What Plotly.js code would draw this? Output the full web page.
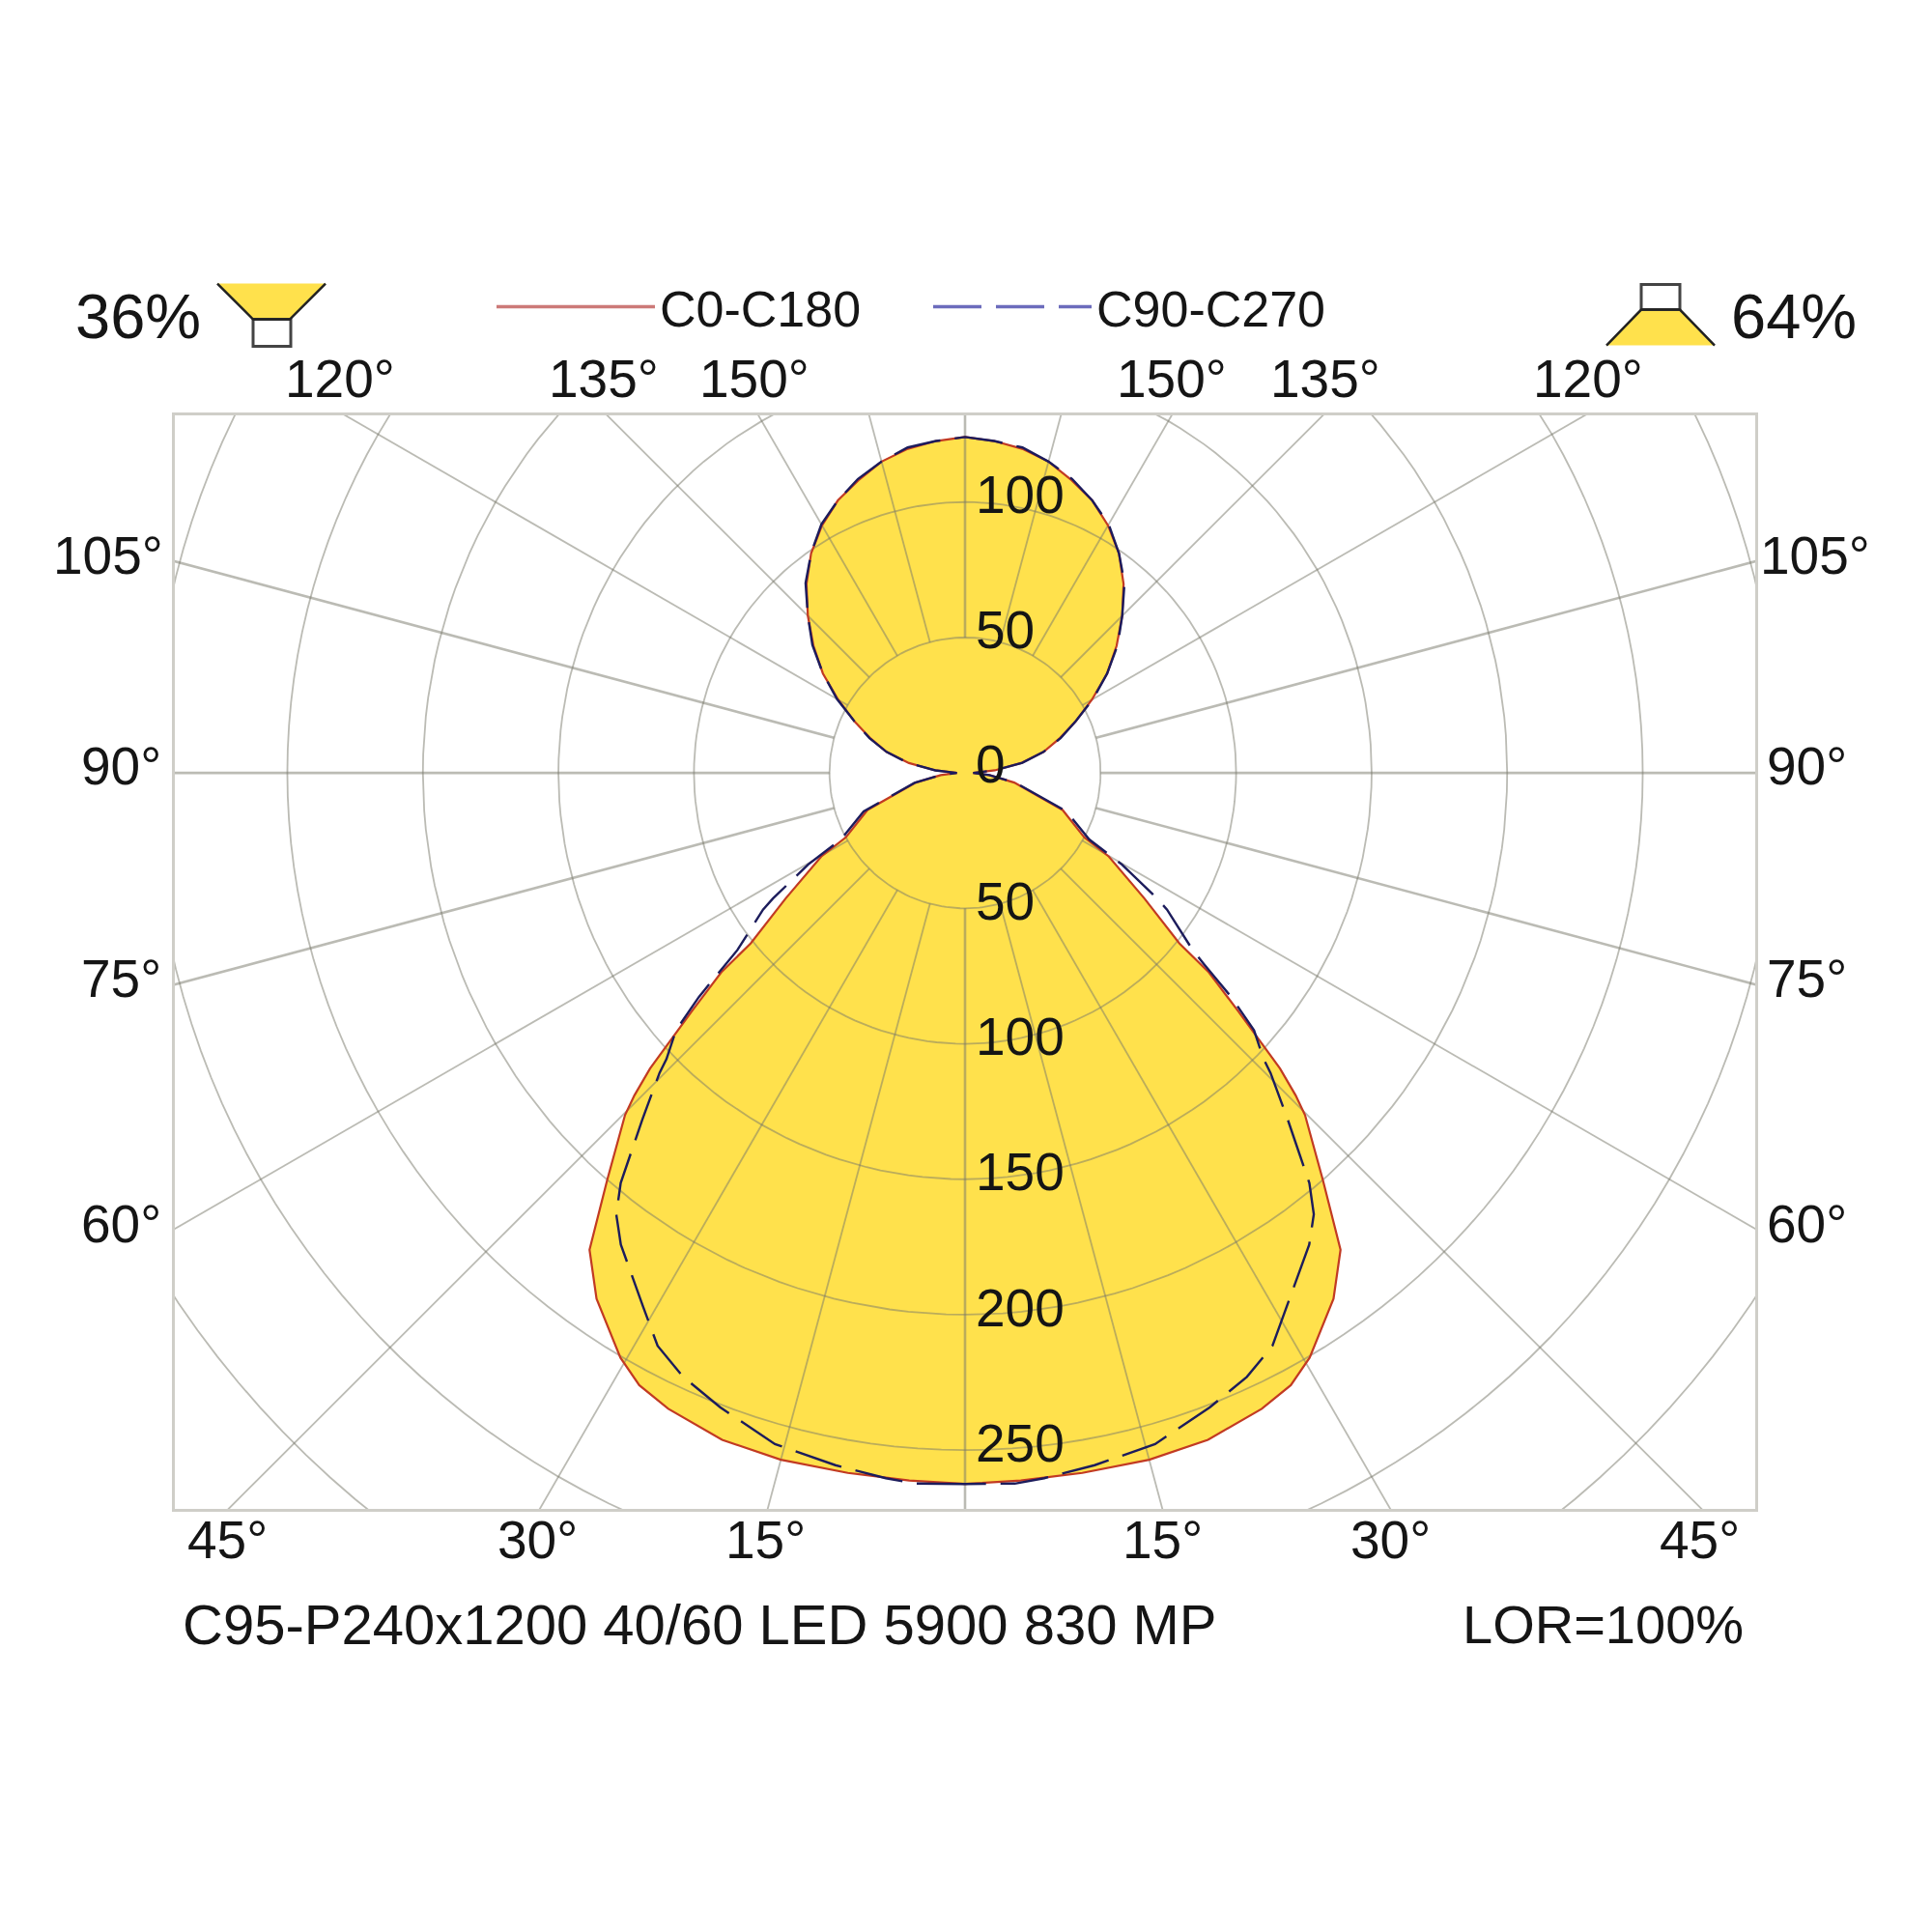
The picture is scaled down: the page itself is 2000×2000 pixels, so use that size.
<!DOCTYPE html>
<html>
<head>
<meta charset="utf-8">
<script src="https://cdn.plot.ly/plotly-3.0.1.min.js"></script>
<style>body { margin: 0; background: #fff; }</style>
</head>
<body>
<div id="ldc_plot" style="width:2000px;height:2000px"></div>
<script>
const anglesC0 = [0, 4.5, 9.5, 15, 20, 25, 28, 30.5, 35, 38.2, 41.3, 44.8, 45.7, 46.8, 48.9, 50.7, 51.5, 55, 59.8, 61.6, 69.2, 78.9, 85, 90,
  95, 100, 105, 110, 115, 120, 125, 130, 135, 140, 145, 150, 155, 160, 165, 170, 175, 180];
const cdC0 = [262.5, 262, 262, 262.5, 262, 259, 256, 250.5, 237, 224, 200, 178, 170.4, 159.4, 133.6, 116.2, 101, 80.8, 61.4, 50, 38.5, 18.5, 9, 3,
  11, 21, 30, 37, 45, 54, 64, 73, 82, 91, 99, 105.5, 111, 115, 119, 121.5, 123, 124];
const anglesC90 = [0, 4, 6.4, 10.6, 15.8, 21.1, 25, 28.2, 31.1, 36.1, 38.3, 40, 42.9, 45.5, 46.2, 48.3, 49.9, 51.3, 52.1, 55.9, 56.8, 59.7, 61.8, 69.2, 78.9, 85, 90,
  95, 100, 105, 110, 115, 120, 125, 130, 135, 140, 145, 150, 155, 160, 165, 170, 175, 180];
const cdC90 = [262.5, 263, 262, 260, 257.5, 251, 246, 240, 230, 215.5, 207.6, 197.6, 175, 158, 152.6, 142.8, 128.3, 113, 106.4, 90, 84.7, 67, 52, 40, 19, 9, 3,
  11, 21.5, 30, 37.5, 45, 54.5, 64, 73.5, 82, 91.5, 99, 106, 111, 115.5, 119, 122, 123, 124];

const ringValues = [50, 100, 150, 200, 250, 300, 350];
const spokeAngles = [15, 30, 45, 60, 75, 90, 105, 120, 135, 150, 165];
const heavySpokes = [75, 90, 105];
const axisSpokes = [0, 180];
const ringLabelsLower = ["50", "100", "150", "200", "250"];
const ringLabelsUpper = ["50", "100"];
const seriesNames = ["C0-C180", "C90-C270"];

const YELLOW = "#FFE14C",
  GRID = "rgba(120,120,105,0.5)",
  FRAME = "#CFCEC8",
  TEXT = "#151515",
  FONT = "Liberation Sans",
  DASH = "50px,15px";

// Plot box in page pixels, used to place the text and icons round it
const BOX = { l: 181, r: 1817, t: 429.5, b: 1562.5 };
const px = x => (x - BOX.l) / (BOX.r - BOX.l);
const py = y => (BOX.b - y) / (BOX.b - BOX.t);

const rad = a => a * Math.PI / 180;

// Closed outline from the half, left side then mirrored right side
function outline(angles, cd) {
  var x = [], y = [];
  angles.forEach((a, i) => {
    x.push(-cd[i] * Math.sin(rad(a)));
    y.push(-cd[i] * Math.cos(rad(a)));
  });
  for (var i = angles.length - 2; i >= 0; i--) {
    x.push(cd[i] * Math.sin(rad(angles[i])));
    y.push(-cd[i] * Math.cos(rad(angles[i])));
  }
  return { x: x, y: y };
}

function ringTrace() {
  var x = [], y = [];
  ringValues.forEach(r => {
    for (var a = 0; a <= 360; a += 2) {
      x.push(r * Math.sin(rad(a)));
      y.push(-r * Math.cos(rad(a)));
    }
    x.push(null);
    y.push(null);
  });
  return { x: x, y: y, mode: "lines", line: { color: GRID, width: 1.8 }, showlegend: false, hoverinfo: "skip" };
}

function spokeTrace(list, sides, width) {
  var x = [], y = [];
  list.forEach(a => {
    sides.forEach(side => {
      x.push(side * 50 * Math.sin(rad(a)), side * 500 * Math.sin(rad(a)), null);
      y.push(-50 * Math.cos(rad(a)), -500 * Math.cos(rad(a)), null);
    });
  });
  return { x: x, y: y, mode: "lines", line: { color: GRID, width: width }, showlegend: false, hoverinfo: "skip" };
}

var c0 = outline(anglesC0, cdC0),
  c90 = outline(anglesC90, cdC90);

var data = [
  { x: c0.x, y: c0.y, mode: "none", fill: "toself", fillcolor: YELLOW, showlegend: false, hoverinfo: "skip" },
  ringTrace(),
  spokeTrace(spokeAngles.filter(a => !heavySpokes.includes(a)), [-1, 1], 1.8),
  spokeTrace(heavySpokes, [-1, 1], 2.6),
  spokeTrace(axisSpokes, [1], 2.6),
  { x: c0.x, y: c0.y, mode: "lines", name: seriesNames[0], showlegend: false, line: { color: "#C23A22", width: 2.2 } },
  { x: c90.x, y: c90.y, mode: "lines", name: seriesNames[1], showlegend: false, line: { color: "#1C1C5C", width: 2.4, dash: DASH } },
  // The legend keys are drawn paler and thicker than the curves in the picture
  { x: [null], y: [null], mode: "lines", name: seriesNames[0], line: { color: "#CC7A78", width: 3.5 } },
  { x: [null], y: [null], mode: "lines", name: seriesNames[1], line: { color: "#6C6CBC", width: 3.5, dash: DASH } }
];

function label(text, x, y, size, anchor) {
  return {
    text: text, xref: "paper", yref: "paper", x: px(x), y: py(y - 2), showarrow: false,
    xanchor: anchor || "center", yanchor: "middle", font: { family: FONT, size: size || 55, color: TEXT }
  };
}

var annotations = [
  label("120°", 352, 393), label("135°", 625, 393), label("150°", 781, 393),
  label("150°", 1213, 393), label("135°", 1372, 393), label("120°", 1644, 393),
  label("105°", 112, 577), label("105°", 1879, 577),
  label("90°", 125, 795), label("90°", 1870, 795),
  label("75°", 125, 1015), label("75°", 1870, 1015),
  label("60°", 125, 1269), label("60°", 1870, 1269),
  label("45°", 235, 1597), label("30°", 556, 1597), label("15°", 792, 1597),
  label("15°", 1203, 1597), label("30°", 1439, 1597), label("45°", 1759, 1597),
  label("36%", 143, 329, 65), label("64%", 1857, 329, 65),
  label("C95-P240x1200 40/60 LED 5900 830 MP", 187, 1684, 58, "left"),
  label("LOR=100%", 1807, 1684, 56, "right"),
  label("0", 1008, 793, 55, "left")
];
ringLabelsLower.forEach((t, i) => annotations.push(label(t, 1008, 935 + i * 140.3, 55, "left")));
ringLabelsUpper.forEach((t, i) => annotations.push(label(t, 1008, 654 - i * 140, 55, "left")));

function path(points, close) {
  return "M" + points.map(p => px(p[0]) + "," + py(p[1])).join("L") + (close ? "Z" : "");
}

function iconShape(points, opts) {
  return Object.assign({ type: "path", xref: "paper", yref: "paper", path: path(points, opts.close) }, opts.style);
}

const DARK = { line: { color: "#222222", width: 2.5 } },
  FILLED = { fillcolor: YELLOW, line: { width: 0 } },
  BOXED = { fillcolor: "#FFFFFF", line: { color: "#444444", width: 3 } };

var shapes = [
  iconShape([[225, 293], [337, 293], [300, 330], [262, 330]], { close: true, style: FILLED }),
  iconShape([[262, 330], [301, 330], [301, 358], [262, 358]], { close: true, style: BOXED }),
  iconShape([[225, 293], [262, 330], [300, 330], [337, 293]], { style: DARK }),
  iconShape([[1663, 357], [1699, 320], [1739, 320], [1775, 357]], { close: true, style: FILLED }),
  iconShape([[1699, 294], [1739, 294], [1739, 320], [1699, 320]], { close: true, style: BOXED }),
  iconShape([[1663, 357], [1699, 320], [1739, 320], [1775, 357]], { style: DARK })
];

var layout = {
  width: 2000,
  height: 2000,
  margin: { l: BOX.l, r: 2000 - BOX.r, t: BOX.t, b: 2000 - BOX.b, pad: 0 },
  paper_bgcolor: "#FFFFFF",
  plot_bgcolor: "#FFFFFF",
  font: { family: FONT, color: TEXT },
  xaxis: { range: [-291.5, 291.5], showgrid: false, zeroline: false, showticklabels: false, ticks: "", showline: true, mirror: true, linecolor: FRAME, linewidth: 3 },
  yaxis: { range: [-271.7, 132], showgrid: false, zeroline: false, showticklabels: false, ticks: "", showline: true, mirror: true, linecolor: FRAME, linewidth: 3 },
  showlegend: true,
  legend: {
    orientation: "h", xanchor: "left", yanchor: "middle", x: px(509), y: py(317),
    itemwidth: 164, entrywidth: 273, entrywidthmode: "pixels",
    bgcolor: "rgba(0,0,0,0)", font: { family: FONT, size: 52, color: TEXT }
  },
  annotations: annotations,
  shapes: shapes
};

Plotly.newPlot("ldc_plot", data, layout, { displayModeBar: false });
</script>
</body>
</html>
